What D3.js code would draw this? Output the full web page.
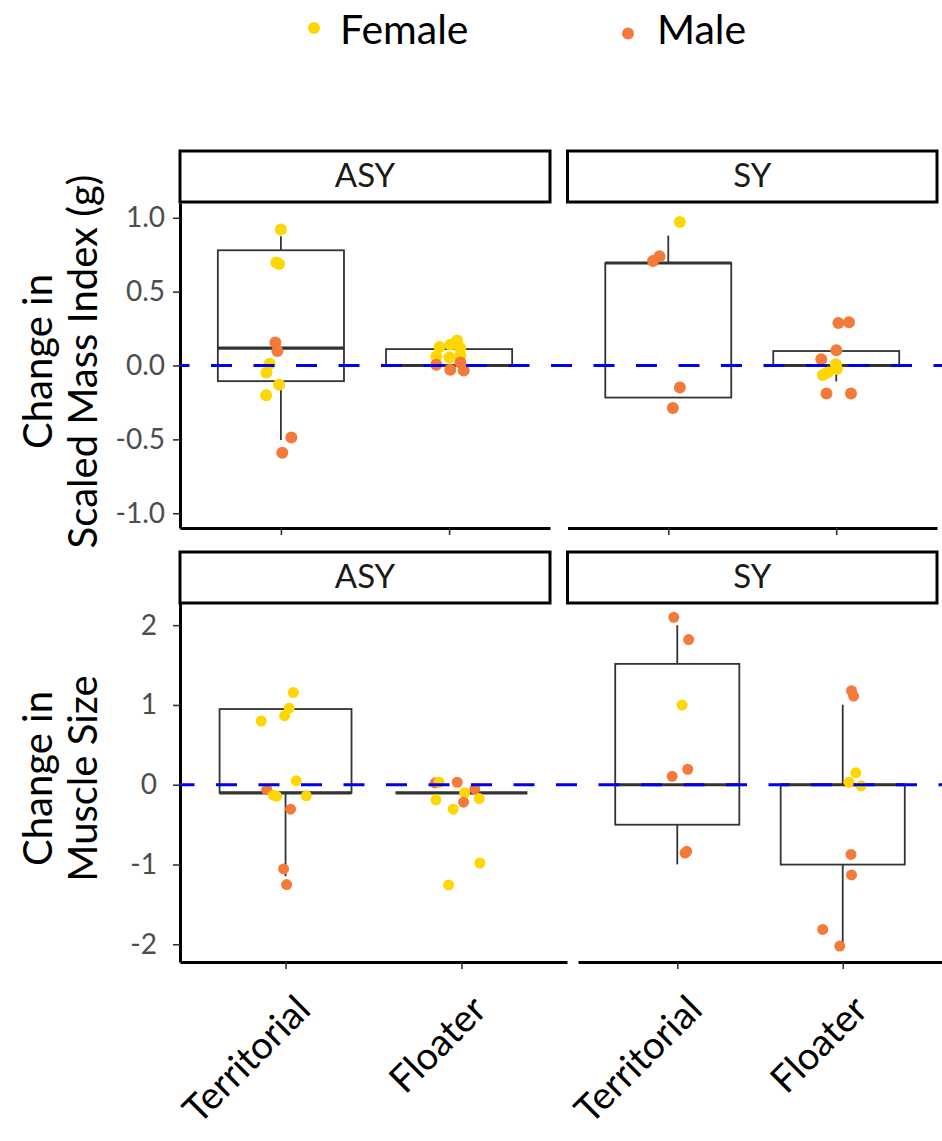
<!DOCTYPE html>
<html>
<head>
<meta charset="utf-8">
<script src="https://cdn.jsdelivr.net/npm/d3@7"></script>
<style>
  body { margin: 0; background: #fff; }
  svg { display: block; font-family: Lato, "Open Sans", sans-serif; }
</style>
</head>
<body>
<script>
// ---------------- DATA ----------------
const sexes = ["Female", "Male"];
const sexColors = ["#FFD700", "#F47A3A"];
const ages = ["ASY", "SY"];
const statuses = ["Territorial", "Floater"];

const smiTicks = [1.0, 0.5, 0.0, -0.5, -1.0];
const smiTickLabels = ["1.0", "0.5", "0.0", "-0.5", "-1.0"];
const muscleTicks = [2, 1, 0, -1, -2];
const muscleTickLabels = ["2", "1", "0", "-1", "-2"];

const smiDomain = [-1.1, 1.1];
const muscleDomain = [-2.222, 2.278];

// points: [value, sex (F/M), horizontal jitter in category-step units]
const smiASYTerritorial = [
  [0.920, "F", 0.000], [0.698, "F", -0.027], [0.687, "F", -0.011],
  [0.156, "M", -0.033], [0.098, "M", -0.021], [0.012, "F", -0.067],
  [-0.047, "F", -0.086], [-0.131, "F", -0.011], [-0.201, "F", -0.088],
  [-0.488, "M", 0.062], [-0.590, "M", 0.008]
];
const smiASYFloater = [
  [0.125, "F", -0.057], [0.140, "F", 0.007], [0.170, "F", 0.048],
  [0.118, "F", 0.066], [0.061, "F", -0.076], [0.054, "F", 0.002],
  [0.068, "F", 0.067], [0.005, "M", -0.076], [0.020, "M", 0.067],
  [-0.029, "M", 0.007], [-0.034, "M", 0.087]
];
const smiSYTerritorial = [
  [0.972, "F", 0.069], [0.739, "M", -0.052], [0.708, "M", -0.091],
  [-0.149, "M", 0.069], [-0.287, "M", 0.027]
];
const smiSYFloater = [
  [0.287, "M", 0.013], [0.292, "M", 0.076], [0.104, "M", 0.001],
  [0.043, "M", -0.089], [0.009, "F", -0.002], [-0.024, "F", 0.004],
  [-0.047, "F", -0.052], [-0.065, "F", -0.079], [-0.190, "M", -0.058],
  [-0.190, "M", 0.088]
];
const muscleASYTerritorial = [
  [1.156, "F", 0.044], [0.961, "F", 0.021], [0.865, "F", -0.005],
  [0.799, "F", -0.138], [0.049, "F", 0.061], [-0.060, "M", -0.107],
  [-0.131, "F", -0.070], [-0.144, "F", -0.051], [-0.139, "F", 0.118],
  [-0.306, "M", 0.029], [-1.056, "M", -0.011], [-1.251, "M", 0.006]
];
const muscleASYFloater = [
  [0.024, "M", -0.149], [0.031, "F", -0.127], [0.031, "M", -0.024],
  [-0.051, "M", 0.076], [-0.101, "F", 0.018], [-0.173, "F", 0.101],
  [-0.189, "F", -0.145], [-0.219, "M", 0.012], [-0.306, "F", -0.047],
  [-0.981, "F", 0.105], [-1.256, "F", -0.073]
];
const muscleSYTerritorial = [
  [2.099, "M", -0.021], [1.819, "M", 0.069], [0.999, "F", 0.029],
  [0.194, "M", 0.063], [0.106, "M", -0.031], [-0.856, "M", 0.047],
  [-0.835, "M", 0.057]
];
const muscleSYFloater = [
  [1.178, "M", 0.053], [1.111, "M", 0.066], [0.149, "F", 0.079],
  [0.031, "F", 0.038], [-0.014, "F", 0.111], [-0.873, "M", 0.050],
  [-1.131, "M", 0.053], [-1.814, "M", -0.121], [-2.023, "M", -0.018]
];

// box stats: [whiskerLow, lowerHinge, median, upperHinge, whiskerHigh] for Territorial, Floater
const smiBoxASY = [[-0.504, -0.106, 0.118, 0.780, 0.875], [0, 0, 0, 0.111, 0.111]];
const smiBoxSY = [[-0.217, -0.217, 0.694, 0.694, 0.879], [-0.108, 0, 0, 0.098, 0.098]];
const muscleBoxASY = [[-1.148, -0.101, -0.101, 0.949, 0.949], [-0.101, -0.101, -0.101, -0.101, -0.101]];
const muscleBoxSY = [[-0.998, -0.501, 0.0, 1.515, 2.0], [-2.023, -1.001, 0, 0, 1.003]];

// ---------------- LAYOUT ----------------
const W = 942, H = 1141;
const svg = d3.select("body").append("svg").attr("width", W).attr("height", H);

const rows = [
  { domain: smiDomain, ticks: smiTicks, labels: smiTickLabels, y0: 203, y1: 528,
    stripY: [151, 202], tickPad: 8, r: 6, dashOffset: 11.5,
    title: ["Change in", "Scaled Mass Index (g)"],
    panels: [
      { x0: 180, x1: 550, sx: [180, 550], pts: [smiASYTerritorial, smiASYFloater], box: smiBoxASY },
      { x0: 567.5, x1: 937, sx: [567.5, 937], pts: [smiSYTerritorial, smiSYFloater], box: smiBoxSY }
    ] },
  { domain: muscleDomain, ticks: muscleTicks, labels: muscleTickLabels, y0: 603, y1: 962,
    stripY: [552, 603], tickPad: 16, r: 5.5, dashOffset: 6.5,
    title: ["Change in", "Muscle Size"],
    panels: [
      { x0: 180, x1: 567, sx: [180, 550], pts: [muscleASYTerritorial, muscleASYFloater], box: muscleBoxASY },
      { x0: 578, x1: 942, sx: [567.5, 937], pts: [muscleSYTerritorial, muscleSYFloater], box: muscleBoxSY }
    ] }
];

const color = s => sexColors[s === "F" ? 0 : 1];

rows.forEach((row, ri) => {
  const y = d3.scaleLinear().domain(row.domain).range([row.y1, row.y0]);

  row.panels.forEach((p, pi) => {
    const x = d3.scalePoint().domain(statuses).range([p.x0, p.x1]).padding(0.6);
    const step = x.step();
    const bw = step * 0.75;
    const g = svg.append("g");

    // strip
    g.append("rect")
      .attr("x", p.sx[0]).attr("y", row.stripY[0])
      .attr("width", p.sx[1] - p.sx[0]).attr("height", row.stripY[1] - row.stripY[0])
      .attr("fill", "#fff").attr("stroke", "#000").attr("stroke-width", 3);
    g.append("text")
      .attr("x", (p.sx[0] + p.sx[1]) / 2).attr("y", row.stripY[1] - 15)
      .attr("text-anchor", "middle").attr("font-size", 33).attr("fill", "#1a1a1a")
      .text(ages[pi]);

    // boxes
    statuses.forEach((s, si) => {
      const b = p.box[si];
      const cx = x(s);
      const bg = g.append("g").attr("stroke", "#333").attr("fill", "none");
      bg.append("line").attr("x1", cx).attr("x2", cx)
        .attr("y1", y(b[3])).attr("y2", y(b[4])).attr("stroke-width", 1.8);
      bg.append("line").attr("x1", cx).attr("x2", cx)
        .attr("y1", y(b[1])).attr("y2", y(b[0])).attr("stroke-width", 1.8);
      bg.append("rect").attr("x", cx - bw / 2).attr("width", bw)
        .attr("y", y(b[3])).attr("height", Math.max(0, y(b[1]) - y(b[3])))
        .attr("fill", "#fff").attr("stroke-width", 1.8);
      bg.append("line").attr("x1", cx - bw / 2).attr("x2", cx + bw / 2)
        .attr("y1", y(b[2])).attr("y2", y(b[2])).attr("stroke-width", 3.2);
    });

    // points
    statuses.forEach((s, si) => {
      g.append("g").selectAll("circle").data(p.pts[si]).join("circle")
        .attr("cx", d => x(s) + d[2] * step)
        .attr("cy", d => y(d[0]))
        .attr("r", row.r)
        .attr("fill", d => color(d[1]));
    });

    // x axis
    const xa = g.append("g").attr("transform", `translate(0,${row.y1})`)
      .call(d3.axisBottom(x).tickSize(7).tickSizeOuter(0).tickFormat(""));
    xa.select(".domain").attr("stroke", "#000").attr("stroke-width", 3);
    xa.selectAll(".tick line").attr("stroke", "#333").attr("stroke-width", 1.6);

    // y axis (left panels only)
    if (pi === 0) {
      const ya = g.append("g").attr("transform", `translate(${p.x0},0)`)
        .call(d3.axisLeft(y).tickValues(row.ticks).tickSize(7).tickSizeOuter(0)
          .tickPadding(row.tickPad).tickFormat((d, i) => row.labels[i]));
      ya.select(".domain").attr("stroke", "#000").attr("stroke-width", 3);
      ya.selectAll(".tick line").attr("stroke", "#333").attr("stroke-width", 1.6);
      ya.selectAll(".tick text").attr("font-size", 28).attr("fill", "#4d4d4d")
        .attr("font-family", "Lato, 'Open Sans', sans-serif");
    }

    // x labels under bottom row
    if (ri === 1) {
      statuses.forEach(s => {
        g.append("text")
          .attr("transform", `translate(${x(s) + 27},1012) rotate(-45)`)
          .attr("text-anchor", "end").attr("font-size", 38).attr("fill", "#000")
          .text(s);
      });
    }
  });

  // dashed zero line across the row
  svg.append("line")
    .attr("x1", row.panels[0].x0).attr("x2", W)
    .attr("y1", y(0)).attr("y2", y(0))
    .attr("stroke", "#0000EE").attr("stroke-width", 3)
    .attr("stroke-dasharray", "21 21.5").attr("stroke-dashoffset", row.dashOffset);

  // y title
  const cy = (row.y0 + row.y1) / 2 - 4;
  const tt = svg.append("text")
    .attr("transform", `translate(0,${cy}) rotate(-90)`)
    .attr("text-anchor", "middle").attr("font-size", 40).attr("fill", "#000");
  tt.append("tspan").attr("x", 0).attr("y", 52).text(row.title[0]);
  tt.append("tspan").attr("x", 0).attr("y", 97).text(row.title[1]);
});

// legend
const legendX = [314, 628];
const legendDotY = [28, 33.5];
const legendTextX = [340, 657];
sexes.forEach((s, i) => {
  svg.append("circle").attr("cx", legendX[i]).attr("cy", legendDotY[i]).attr("r", 6)
    .attr("fill", sexColors[i]);
  svg.append("text").attr("x", legendTextX[i]).attr("y", 43.5)
    .attr("font-size", 41).attr("fill", "#000").text(s);
});
</script>
</body>
</html>
